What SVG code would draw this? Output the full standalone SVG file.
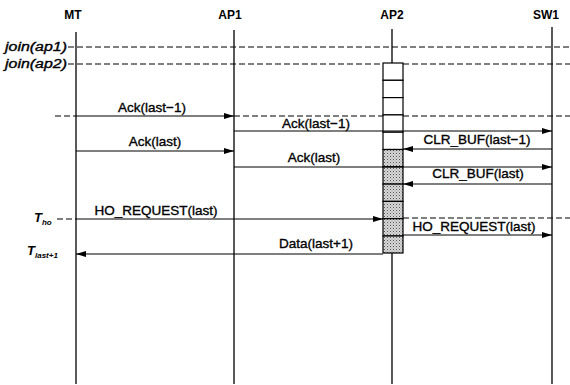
<svg xmlns="http://www.w3.org/2000/svg" width="570" height="385" viewBox="0 0 570 385">
<style>
.ll{stroke:#000;stroke-width:1.3;fill:none}
.msg{stroke:#000;stroke-width:1.2;fill:none}
.dash{stroke:#000;stroke-width:1.2;fill:none;stroke-dasharray:6,3}
.hd{font-family:"Liberation Sans",Arial,sans-serif;font-size:12px;font-weight:bold;text-anchor:middle}
.lb{font-family:"Liberation Sans",Arial,sans-serif;font-size:13.5px;text-anchor:middle;stroke:#000;stroke-width:0.35}
.it{font-family:"Liberation Sans",Arial,sans-serif;font-style:italic;font-size:12.5px;stroke:#000;stroke-width:0.35}
.tt{font-family:"Liberation Sans",Arial,sans-serif;font-style:italic;font-weight:bold;font-size:13px}
.sub{font-size:8px}
.cell{stroke:#000;stroke-width:1.2;fill:#fff}
.cellS{stroke:#000;stroke-width:1.2;fill:url(#dots)}
</style>
<defs>
<marker id="ah" viewBox="0 0 10 6" refX="10" refY="3" markerWidth="10" markerHeight="6" markerUnits="userSpaceOnUse" orient="auto">
<path d="M0,0 L10,3 L0,6 Z" fill="#000"/>
</marker>
<pattern id="dots" width="3" height="3" patternUnits="userSpaceOnUse">
<rect width="3" height="3" fill="#d8d8d8"/>
<rect width="1" height="1" fill="#555"/>
<rect x="1.5" y="1.5" width="1" height="1" fill="#888"/>
</pattern>
</defs>

<g id="MT">
<text class="hd" x="73" y="19">MT</text>
<line class="ll" x1="76" y1="32" x2="76" y2="384"/>
</g>
<g id="AP1">
<text class="hd" x="230" y="19">AP1</text>
<line class="ll" x1="234" y1="30" x2="234" y2="384"/>
</g>
<g id="AP2">
<text class="hd" x="392" y="19">AP2</text>
<line class="ll" x1="392" y1="29" x2="392" y2="63"/>
<line class="ll" x1="392" y1="253" x2="392" y2="384"/>
<rect class="cell" x="383" y="63" width="20" height="17.3"/>
<rect class="cell" x="383" y="80.3" width="20" height="17.3"/>
<rect class="cell" x="383" y="97.6" width="20" height="17.3"/>
<rect class="cell" x="383" y="114.9" width="20" height="17.3"/>
<rect class="cell" x="383" y="132.2" width="20" height="17.3"/>
<rect class="cellS" x="383" y="149.5" width="20" height="17.3"/>
<rect class="cellS" x="383" y="166.8" width="20" height="17.3"/>
<rect class="cellS" x="383" y="184.1" width="20" height="17.3"/>
<rect class="cellS" x="383" y="201.4" width="20" height="17.3"/>
<rect class="cellS" x="383" y="218.7" width="20" height="17.3"/>
<rect class="cellS" x="383" y="236" width="20" height="17"/>
</g>
<g id="SW1">
<text class="hd" x="546" y="19">SW1</text>
<line class="ll" x1="552" y1="27" x2="552" y2="384"/>
</g>

<g id="time-labels">
<text class="it" x="5" y="51" textLength="62" lengthAdjust="spacingAndGlyphs">join(ap1)</text>
<text class="it" x="5" y="68" textLength="62" lengthAdjust="spacingAndGlyphs">join(ap2)</text>
<text class="tt" x="34" y="222">T<tspan class="sub" dy="3">ho</tspan></text>
<text class="tt" x="27" y="255">T<tspan class="sub" dy="3">last+1</tspan></text>
</g>

<g id="connectors">
<line class="dash" x1="68" y1="47" x2="570" y2="47"/>
<line class="dash" x1="68" y1="64" x2="383" y2="64"/>
<line class="dash" x1="403" y1="64" x2="570" y2="64"/>
<line class="dash" x1="55" y1="116" x2="76" y2="116"/>
<line class="dash" x1="234" y1="116" x2="383" y2="116"/>
<line class="dash" x1="403" y1="116" x2="570" y2="116"/>
<line class="dash" x1="57" y1="219" x2="76" y2="219"/>
<line class="dash" x1="403" y1="218" x2="570" y2="218"/>

<line class="msg" x1="76" y1="116" x2="234" y2="116" marker-end="url(#ah)"/>
<text class="lb" x="152" y="112">Ack(last−1)</text>

<line class="msg" x1="234" y1="131" x2="552" y2="131" marker-end="url(#ah)"/>
<text class="lb" x="316" y="128">Ack(last−1)</text>

<line class="msg" x1="552" y1="149" x2="403" y2="149" marker-end="url(#ah)"/>
<text class="lb" x="477" y="144">CLR_BUF(last−1)</text>

<line class="msg" x1="76" y1="151" x2="234" y2="151" marker-end="url(#ah)"/>
<text class="lb" x="155" y="146">Ack(last)</text>

<line class="msg" x1="234" y1="167" x2="552" y2="167" marker-end="url(#ah)"/>
<text class="lb" x="314" y="162">Ack(last)</text>

<line class="msg" x1="552" y1="184" x2="403" y2="184" marker-end="url(#ah)"/>
<text class="lb" x="478" y="178">CLR_BUF(last)</text>

<line class="msg" x1="76" y1="219" x2="383" y2="219" marker-end="url(#ah)"/>
<text class="lb" x="156" y="215">HO_REQUEST(last)</text>

<line class="msg" x1="403" y1="235" x2="552" y2="235" marker-end="url(#ah)"/>
<text class="lb" x="474" y="231">HO_REQUEST(last)</text>

<line class="msg" x1="383" y1="254" x2="76" y2="254" marker-end="url(#ah)"/>
<text class="lb" x="316" y="248">Data(last+1)</text>
</g>
</svg>
